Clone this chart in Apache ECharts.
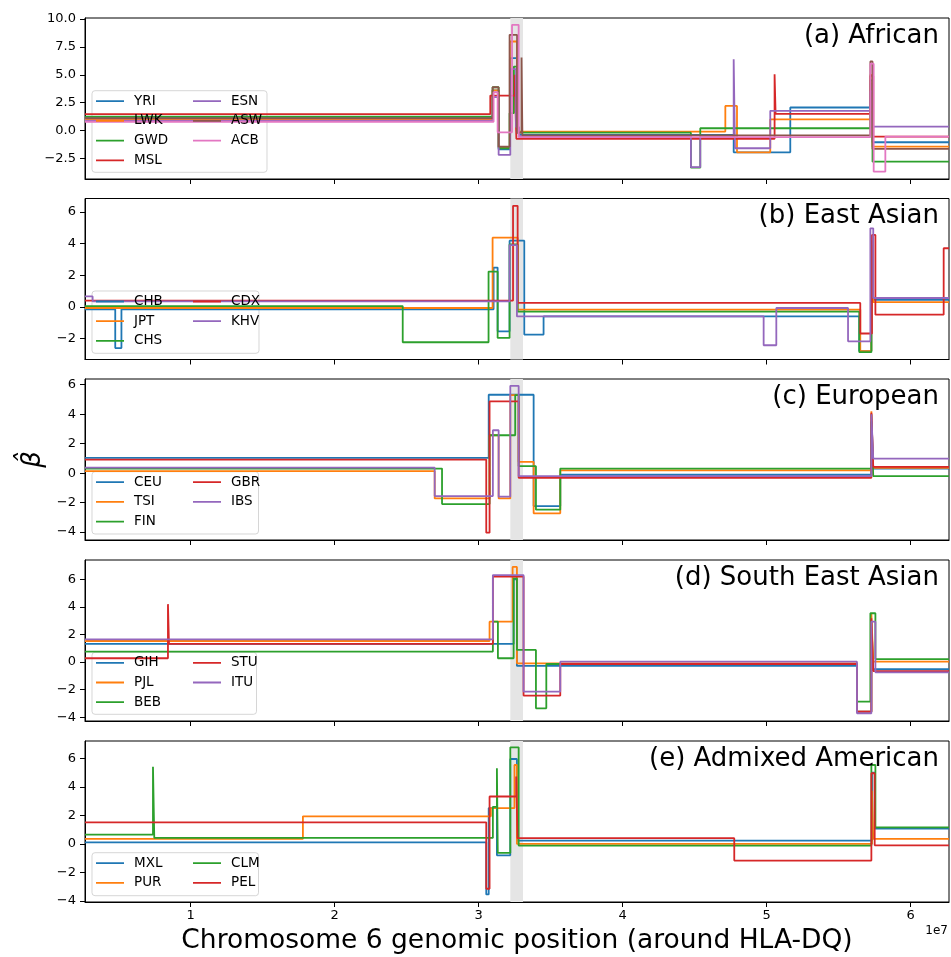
<!DOCTYPE html>
<html>
<head>
<meta charset="utf-8">
<script src="https://cdn.jsdelivr.net/npm/echarts@6/dist/echarts.min.js"></script>
<style>
  html, body { margin: 0; padding: 0; background: #fff; }
  #main { width: 951px; height: 957px; }
</style>
</head>
<body>
<div id="main"></div>
<script>
// positions in Mb, values are beta-hat; each pair starts a step that holds until the next pair
// (a) African
const yri = [[2.67,1.1],[30.97,3.6],[31.39,-1.7],[32.17,6.49],[32.67,0.35],[32.8,-0.4],[47.71,-1.96],[51.64,2.06],[57.2,4.2],[57.35,-1.06],[62.66,-1.06]];
const lwk = [[2.67,1.0],[30.97,3.6],[31.39,-1.5],[32.17,7.99],[32.67,-0.1],[47.13,2.2],[47.94,-1.96],[50.25,1.0],[57.2,5.0],[57.35,-1.46],[62.66,-1.46]];
const gwd = [[2.67,1.25],[30.97,3.88],[31.39,-1.6],[32.15,1.55],[32.45,5.74],[32.67,-0.2],[44.74,-3.34],[45.39,0.2],[57.2,4.5],[57.35,-2.8],[62.66,-2.8]];
const msl = [[2.67,1.46],[30.81,3.13],[32.5,5.0],[32.62,-0.75],[50.55,5.05],[50.62,1.49],[57.2,4.9],[57.4,-0.55],[62.66,-0.55]];
const esn = [[2.67,0.88],[30.97,3.0],[31.39,-2.2],[32.2,5.5],[32.6,0.3],[32.8,-0.5],[44.74,-3.3],[45.39,-0.6],[47.71,6.4],[47.8,-1.6],[50.25,1.76],[57.2,3.5],[57.35,0.34],[62.66,0.34]];
const asw = [[2.67,1.1],[30.97,3.88],[31.39,-1.46],[32.15,8.59],[32.67,-0.2],[32.98,6.55],[33.04,-0.45],[57.2,6.2],[57.35,-1.66],[62.66,-1.66]];
const acb = [[2.67,0.78],[31.04,3.43],[31.32,-0.17],[32.32,9.49],[32.78,-0.6],[57.2,6.0],[57.43,-3.7],[58.24,-0.55],[62.66,-0.55]];
// (b) East Asian
const chb = [[2.67,-0.15],[4.77,-2.6],[5.2,-0.15],[31.04,2.48],[31.32,-1.54],[32.15,4.18],[33.17,-1.75],[34.51,-0.6],[56.43,-2.79],[57.27,4.2],[57.4,0.45],[62.66,0.45]];
const jpt = [[2.67,-0.07],[30.97,4.37],[32.71,-0.17],[56.5,-2.79],[57.27,3.8],[57.4,0.3],[62.66,0.3]];
const chs = [[2.67,0.05],[24.73,-2.23],[30.69,2.23],[31.32,-1.96],[32.15,3.95],[32.71,-0.3],[56.43,-2.86],[57.27,3.9],[57.4,0.56],[62.66,0.56]];
const cdx = [[2.67,0.4],[32.39,6.38],[32.71,0.25],[56.5,-1.68],[57.31,4.54],[57.55,-0.49],[62.29,3.7],[62.66,3.7]];
const khv = [[2.67,0.66],[3.2,0.35],[32.15,3.9],[32.66,-0.6],[49.79,-2.42],[50.67,-0.07],[55.65,-2.17],[57.2,4.96],[57.4,0.56],[62.66,0.56]];
// (c) European
const ceu = [[2.67,1.04],[30.7,5.32],[33.82,-2.24],[35.67,-0.11],[57.27,4.0],[57.4,0.31],[62.66,0.31]];
const tsi = [[2.67,0.13],[26.95,-1.72],[30.76,2.57],[31.39,-1.72],[32.2,5.3],[32.78,0.77],[33.82,-2.73],[35.67,0.18],[57.27,4.2],[57.4,0.35],[62.66,0.35]];
const fin = [[2.67,0.31],[27.46,-2.1],[30.76,2.57],[32.54,5.3],[32.78,0.47],[33.98,-2.48],[35.67,0.31],[57.27,3.5],[57.4,-0.21],[62.66,-0.21]];
const gbr = [[2.67,0.92],[30.53,-4.04],[30.76,4.87],[32.78,-0.32],[57.27,4.1],[57.4,0.43],[62.66,0.43]];
const ibs = [[2.67,0.37],[26.95,-1.56],[30.99,2.91],[31.39,-1.6],[32.2,5.93],[32.78,-0.21],[57.27,4.0],[57.4,0.99],[62.66,0.99]];
// (d) South East Asian
const gih = [[2.67,1.32],[32.43,6.0],[32.66,-0.28],[56.27,-3.6],[57.27,2.9],[57.4,-0.52],[62.66,-0.52]];
const pjl = [[2.67,1.53],[30.76,2.93],[32.36,6.9],[32.66,-0.09],[56.27,-3.6],[57.27,3.5],[57.4,0.03],[62.66,0.03]];
const beb = [[2.67,0.76],[30.99,2.93],[31.34,0.28],[32.43,6.07],[32.66,0.88],[33.98,-3.35],[34.7,-0.14],[56.27,-2.87],[57.2,3.54],[57.55,0.22],[62.66,0.22]];
const stu = [[2.67,0.28],[8.43,4.2],[8.5,1.32],[30.99,6.2],[33.12,-2.43],[35.67,-0.14],[56.27,-3.59],[57.27,3.17],[57.4,-0.65],[62.66,-0.65]];
const itu = [[2.67,1.65],[30.99,6.31],[33.12,-2.14],[35.67,0.03],[56.27,-3.71],[57.27,2.93],[57.55,-0.74],[62.66,-0.74]];
// (e) Admixed American
const mxl = [[2.67,0.11],[30.53,-3.54],[30.7,2.51],[31.27,-0.8],[32.2,5.95],[32.66,0.23],[57.31,5.0],[57.5,1.07],[62.66,1.07]];
const pur = [[2.67,0.35],[17.8,1.93],[30.85,2.51],[32.49,5.53],[32.66,0.0],[57.31,3.72],[57.4,0.35],[62.66,0.35]];
const clm = [[2.67,0.65],[7.39,5.41],[7.48,0.42],[30.99,2.6],[31.27,5.3],[31.33,-0.63],[32.2,6.77],[32.78,-0.12],[57.27,5.53],[57.55,1.16],[62.66,1.16]];
const pel = [[2.67,1.51],[30.53,-3.14],[30.76,3.32],[32.61,4.72],[32.7,0.4],[47.75,-1.17],[57.27,4.95],[57.5,-0.1],[62.66,-0.1]];

const hlaBand = [32.2, 33.08];          // shaded HLA-DQ window, Mb
const xTicks = [1e7, 2e7, 3e7, 4e7, 5e7, 6e7];
const yTicksA = [-2.5, 0, 2.5, 5, 7.5, 10];
const yTicksB = [-2, 0, 2, 4, 6];
const yTicksC = [-4, -2, 0, 2, 4, 6];

const tab10 = ['#1f77b4', '#ff7f0e', '#2ca02c', '#d62728', '#9467bd', '#8c564b', '#e377c2'];

const panels = [
  { title: '(a) African', names: ['YRI','LWK','GWD','MSL','ESN','ASW','ACB'], data: [yri,lwk,gwd,msl,esn,asw,acb], split: 4, yMin: -4.36, yMax: 10.1, ticks: yTicksA, dec: 1 },
  { title: '(b) East Asian', names: ['CHB','JPT','CHS','CDX','KHV'], data: [chb,jpt,chs,cdx,khv], split: 3, yMin: -3.32, yMax: 6.84, ticks: yTicksB, dec: 0 },
  { title: '(c) European', names: ['CEU','TSI','FIN','GBR','IBS'], data: [ceu,tsi,fin,gbr,ibs], split: 3, yMin: -4.54, yMax: 6.39, ticks: yTicksC, dec: 0 },
  { title: '(d) South East Asian', names: ['GIH','PJL','BEB','STU','ITU'], data: [gih,pjl,beb,stu,itu], split: 3, yMin: -4.27, yMax: 7.4, ticks: yTicksC, dec: 0 },
  { title: '(e) Admixed American', names: ['MXL','PUR','CLM','PEL'], data: [mxl,pur,clm,pel], split: 2, yMin: -4.07, yMax: 7.21, ticks: yTicksC, dec: 0 }
];

// layout (pixels)
const gridTops = [18, 198.5, 379, 560, 741];
const gridH = 161;
const legendFrames = [
  [92, 90.7, 175, 81.6],
  [92, 291, 167, 62.3],
  [92, 471.7, 166.5, 62.3],
  [92, 652.3, 164.5, 62],
  [92, 852.7, 166.5, 43]
];
// plain line handle; tiny corner dots keep the path's box at 28x14
const lineIcon = 'path://M0,0h0.01v0.01h-0.01z M0,6.1h28v1.8h-28z M27.99,13.99h0.01v0.01h-0.01z';

const font = 'DejaVu Sans';
const minus = s => String(s).replace('-', '\u2212');

const grid = [], xAxis = [], yAxis = [], series = [], legend = [], title = [], graphic = [];

panels.forEach((p, i) => {
  const last = i === panels.length - 1;
  grid.push({ left: 85, top: gridTops[i], width: 864, height: gridH, show: true, borderColor: '#000', borderWidth: 1, backgroundColor: 'transparent' });
  xAxis.push({
    type: 'value', gridIndex: i, min: 2.67e6, max: 62.66e6,
    splitLine: { show: false },
    axisLine: { onZero: false, lineStyle: { color: '#000', width: 1 } },
    axisTick: { show: true, length: 5, customValues: xTicks, lineStyle: { color: '#000' } },
    axisLabel: { show: last, customValues: xTicks, margin: 7, fontSize: 13, fontFamily: font, color: '#000', formatter: v => String(Math.round(v / 1e7)) },
    name: last ? 'Chromosome 6 genomic position (around HLA-DQ)' : '',
    nameLocation: 'middle', nameGap: 26,
    nameTextStyle: { fontSize: 26.5, fontFamily: font, color: '#000' }
  });
  yAxis.push({
    type: 'value', gridIndex: i, min: p.yMin, max: p.yMax,
    splitLine: { show: false },
    axisLine: { show: true, onZero: false, lineStyle: { color: '#000', width: 1 } },
    axisTick: { show: true, length: 5, customValues: p.ticks, lineStyle: { color: '#000' } },
    axisLabel: { customValues: p.ticks, margin: 9, fontSize: 13, fontFamily: font, color: '#000', formatter: v => minus(v.toFixed(p.dec)) },
    name: i === 2 ? '\u03b2\u0302' : '',
    nameLocation: 'middle', nameRotate: 90, nameGap: 36,
    nameTextStyle: { fontSize: 26, fontStyle: 'italic', fontFamily: font, color: '#000' }
  });
  // grey band behind the lines
  series.push({
    type: 'line', xAxisIndex: i, yAxisIndex: i, data: [], z: 1, silent: true,
    markArea: { silent: true, itemStyle: { color: '#e5e5e5' }, data: [[{ xAxis: hlaBand[0] * 1e6 }, { xAxis: hlaBand[1] * 1e6 }]] }
  });
  p.names.forEach((name, k) => {
    series.push({
      type: 'line', name, xAxisIndex: i, yAxisIndex: i,
      data: p.data[k].map(d => [d[0] * 1e6, d[1]]),
      step: 'end', symbol: 'none', showSymbol: false, silent: true,
      lineStyle: { width: 1.8, color: tab10[k] },
      itemStyle: { color: tab10[k] }
    });
  });
  const fr = legendFrames[i];
  const legBase = {
    orient: 'vertical', top: fr[1] + 3.5, padding: 0, icon: lineIcon,
    itemWidth: 28, itemHeight: 14, itemGap: 5.7, selectedMode: false,
    textStyle: { fontSize: 13.5, fontFamily: font, color: '#000', padding: [0, 0, 0, 5] }
  };
  legend.push(Object.assign({}, legBase, { left: 96, data: p.names.slice(0, p.split) }));
  legend.push(Object.assign({}, legBase, { left: 193, data: p.names.slice(p.split) }));
  graphic.push({
    type: 'rect', z: 3, silent: true,
    shape: { x: fr[0], y: fr[1], width: fr[2], height: fr[3], r: 3 },
    style: { fill: 'rgba(255,255,255,0.8)', stroke: 'rgba(204,204,204,0.8)', lineWidth: 1 }
  });
  title.push({
    text: p.title, right: 12, top: gridTops[i] + 5, padding: 0,
    textStyle: { fontSize: 26, fontWeight: 'normal', fontFamily: font, color: '#000' }
  });
});

title.push({ text: '1e7', right: 3, top: 925, padding: 0, textStyle: { fontSize: 12, fontWeight: 'normal', fontFamily: font, color: '#000' } });

const chart = echarts.init(document.getElementById('main'), null, { renderer: 'canvas' });
chart.setOption({
  animation: false,
  backgroundColor: '#fff',
  title, grid, xAxis, yAxis, series, legend, graphic
});
</script>
</body>
</html>
